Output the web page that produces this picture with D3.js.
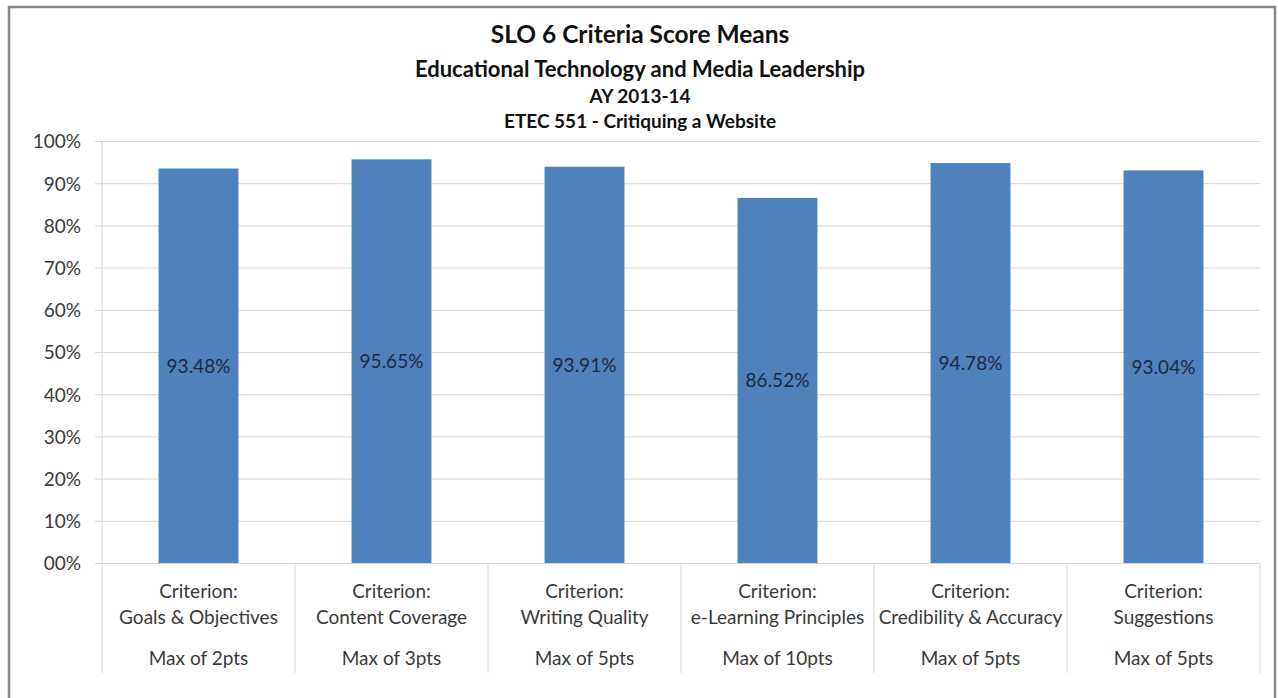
<!DOCTYPE html>
<html><head><meta charset="utf-8">
<script src="https://cdn.jsdelivr.net/npm/d3@7"></script>
<style>
html,body{margin:0;padding:0;background:#fff;}
svg text{font-family:Lato,"Open Sans",sans-serif;}
</style></head>
<body><svg id="c" width="1278" height="698"></svg>
<script>
const titleLines = ["SLO 6 Criteria Score Means","Educational Technology and Media Leadership","AY 2013-14","ETEC 551 - Critiquing a Website"];
const categories = ["Goals & Objectives","Content Coverage","Writing Quality","e-Learning Principles","Credibility & Accuracy","Suggestions"];
const maxPoints = ["Max of 2pts","Max of 3pts","Max of 5pts","Max of 10pts","Max of 5pts","Max of 5pts"];
const values = [0.9348,0.9565,0.9391,0.8652,0.9478,0.9304];
const valueLabels = ["93.48%","95.65%","93.91%","86.52%","94.78%","93.04%"];
const tickValues = [0,0.1,0.2,0.3,0.4,0.5,0.6,0.7,0.8,0.9,1.0];
const tickLabels = ["00%","10%","20%","30%","40%","50%","60%","70%","80%","90%","100%"];

const svg = d3.select("#c");
svg.append("rect").attr("width",1278).attr("height",698).attr("fill","#fff");
svg.append("rect").attr("x",9).attr("y",7).attr("width",1266).attr("height",700)
  .attr("fill","none").attr("stroke","#878787").attr("stroke-width",2.5);

const pL=102,pR=1260,pT=141,pB=563;
const x = d3.scaleBand().domain(categories).range([pL,pR]).padding(0);
const y = d3.scaleLinear().domain([0,1]).range([pB,pT]);
const barW = x.bandwidth()*0.414;

// titles (baselines)
const tSizes=[24.5,22,19,19], tY=[43,77,103,128];
titleLines.forEach((t,i)=>{
  svg.append("text").attr("x",640).attr("y",tY[i]).attr("text-anchor","middle")
    .attr("font-weight","bold").attr("font-size",tSizes[i]).attr("fill","#111").text(t);
});

// grid + y axis
const yAxis = d3.axisLeft(y).tickValues(tickValues).tickFormat((d,i)=>tickLabels[i])
  .tickSize(-(pR-pL)).tickPadding(21);
const g = svg.append("g").attr("transform",`translate(${pL},0)`).call(yAxis);
g.select(".domain").remove();
g.selectAll(".tick line").attr("x1",-7).attr("stroke","#d6d6d6");
g.selectAll(".tick text").attr("font-size",19).attr("fill","#3a3a3a")
  .attr("font-family","Lato,sans-serif").attr("dy","0.36em");
svg.append("line").attr("x1",pL).attr("x2",pL).attr("y1",pT).attr("y2",pB).attr("stroke","#d6d6d6");

// category dividers
const bounds = categories.map(c=>x(c)).concat([pR]);
svg.selectAll(".div").data(bounds).enter().append("line")
  .attr("x1",d=>d).attr("x2",d=>d).attr("y1",pB).attr("y2",673)
  .attr("stroke","#d6d6d6");

// bars
svg.selectAll(".bar").data(values).enter().append("rect")
  .attr("x",(d,i)=>x(categories[i])+x.bandwidth()/2-barW/2)
  .attr("width",barW).attr("y",d=>y(d)).attr("height",d=>pB-y(d))
  .attr("fill","#4f81bd");

svg.selectAll(".vl").data(values).enter().append("text")
  .attr("x",(d,i)=>x(categories[i])+x.bandwidth()/2)
  .attr("y",d=>(y(d)+pB)/2).attr("dy","0.36em").attr("text-anchor","middle")
  .attr("font-size",19).attr("fill","#1c2a3e").text((d,i)=>valueLabels[i]);

// category labels (baselines)
categories.forEach((c,i)=>{
  const cx = x(c)+x.bandwidth()/2;
  [["Criterion:",598],[c,624],[maxPoints[i],665]].forEach(([t,yy])=>{
    svg.append("text").attr("x",cx).attr("y",yy).attr("text-anchor","middle")
      .attr("font-size",19).attr("fill","#3a3a3a").text(t);
  });
});
</script></body></html>
